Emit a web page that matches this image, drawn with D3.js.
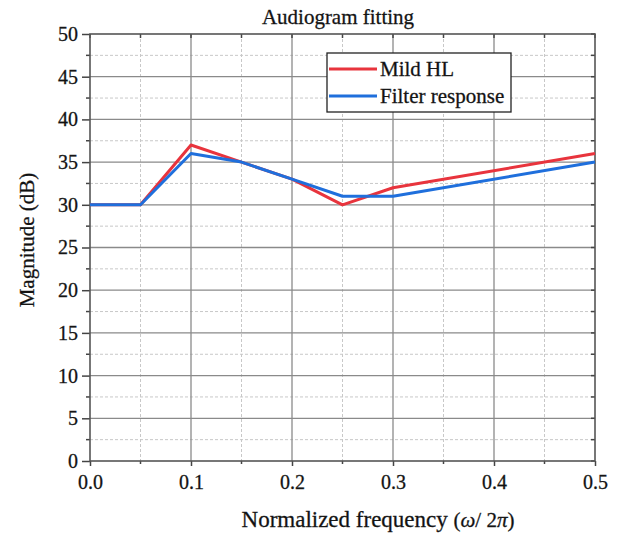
<!DOCTYPE html>
<html>
<head>
<meta charset="utf-8">
<script src="https://cdn.jsdelivr.net/npm/d3@7"></script>
<style>
  html, body { margin: 0; padding: 0; background: #fff; }
  svg { display: block; font-family: "Liberation Serif", "DejaVu Serif", serif; }
  svg text { stroke: #222; stroke-width: 0.3px; }
</style>
</head>
<body>
<svg id="chart" width="617" height="534"></svg>
<script>
// Frequency points (normalized, ω/2π)
const freqs = [0, 0.05, 0.1, 0.15, 0.2, 0.25, 0.3, 0.5];
// Target audiogram (mild hearing loss), dB
const mildHL = [30, 30, 37, 35, 33, 30, 32, 36];
// Designed filter magnitude response, dB
const filterResp = [30, 30, 36, 35, 33, 31, 31, 35];

const xTicks = [0, 0.1, 0.2, 0.3, 0.4, 0.5];
const xMinor = [0.05, 0.15, 0.25, 0.35, 0.45];
const yTicks = [0, 5, 10, 15, 20, 25, 30, 35, 40, 45, 50];
const yMinor = [2.5, 7.5, 12.5, 17.5, 22.5, 27.5, 32.5, 37.5, 42.5, 47.5];

const seriesNames = ["Mild HL", "Filter response"];
const seriesColors = ["#e8343d", "#1f6fdc"];

const svg = d3.select("#chart");
const m = { left: 90, right: 595, top: 34, bottom: 461 };

const x = d3.scaleLinear().domain([0, 0.5]).range([m.left, m.right]);
const y = d3.scaleLinear().domain([0, 50]).range([m.bottom, m.top]);

// minor dashed grid
const g = svg.append("g");
g.selectAll(".vminor").data(xMinor).join("line")
  .attr("x1", d => x(d)).attr("x2", d => x(d))
  .attr("y1", m.top).attr("y2", m.bottom)
  .attr("stroke", "#c8c8c8").attr("stroke-width", 1).attr("stroke-dasharray", "3,2");
g.selectAll(".hminor").data(yMinor).join("line")
  .attr("x1", m.left).attr("x2", m.right)
  .attr("y1", d => y(d)).attr("y2", d => y(d))
  .attr("stroke", "#c8c8c8").attr("stroke-width", 1).attr("stroke-dasharray", "3,2");

// major solid grid
g.selectAll(".vmajor").data(xTicks.slice(1, -1)).join("line")
  .attr("x1", d => x(d)).attr("x2", d => x(d))
  .attr("y1", m.top).attr("y2", m.bottom)
  .attr("stroke", "#8a8a8a").attr("stroke-width", 1.3);
g.selectAll(".hmajor").data(yTicks.slice(1, -1)).join("line")
  .attr("x1", m.left).attr("x2", m.right)
  .attr("y1", d => y(d)).attr("y2", d => y(d))
  .attr("stroke", "#8a8a8a").attr("stroke-width", 1.3);

// axes
const xAxis = d3.axisBottom(x).tickValues(xTicks).tickFormat(d3.format(".1f")).tickSize(5).tickPadding(9);
const yAxis = d3.axisLeft(y).tickValues(yTicks).tickFormat(d3.format("d")).tickSize(8).tickPadding(4);

const gx = svg.append("g").attr("transform", `translate(0,${m.bottom})`).call(xAxis);
const gy = svg.append("g").attr("transform", `translate(${m.left},0)`).call(yAxis);
[gx, gy].forEach(a => {
  a.select(".domain").remove();
  a.selectAll("line").attr("stroke", "#444").attr("stroke-width", 1.5);
  a.selectAll("text").attr("font-size", 20).attr("fill", "#111")
    .attr("font-family", "Liberation Serif, serif");
});

// minor ticks on bottom and left, inner ticks on top and right
const tickStyle = sel => sel.attr("stroke", "#444").attr("stroke-width", 1.5);
svg.append("g").selectAll("line").data(xMinor).join("line")
  .attr("x1", d => x(d)).attr("x2", d => x(d))
  .attr("y1", m.bottom).attr("y2", m.bottom + 3).call(tickStyle);
svg.append("g").selectAll("line").data(yMinor).join("line")
  .attr("x1", m.left - 4).attr("x2", m.left)
  .attr("y1", d => y(d)).attr("y2", d => y(d)).call(tickStyle);
svg.append("g").selectAll("line").data(yTicks.concat(yMinor)).join("line")
  .attr("x1", m.right - 4).attr("x2", m.right)
  .attr("y1", d => y(d)).attr("y2", d => y(d)).call(tickStyle);
svg.append("g").selectAll("line").data(xTicks.concat(xMinor)).join("line")
  .attr("x1", d => x(d)).attr("x2", d => x(d))
  .attr("y1", m.top).attr("y2", m.top + 4).call(tickStyle);

// frame
svg.append("rect")
  .attr("x", m.left).attr("y", m.top)
  .attr("width", m.right - m.left).attr("height", m.bottom - m.top)
  .attr("fill", "none").attr("stroke", "#555").attr("stroke-width", 1.6);

// series
const line = d3.line().x(d => x(d[0])).y(d => y(d[1]));
[mildHL, filterResp].forEach((vals, i) => {
  svg.append("path")
    .datum(freqs.map((f, k) => [f, vals[k]]))
    .attr("d", line)
    .attr("fill", "none")
    .attr("stroke", seriesColors[i])
    .attr("stroke-width", 3)
    .attr("stroke-linejoin", "round");
});

// legend
const lg = svg.append("g").attr("transform", "translate(327,53)");
lg.append("rect").attr("width", 184).attr("height", 59)
  .attr("fill", "#fff").attr("stroke", "#222").attr("stroke-width", 1.3);
seriesNames.forEach((name, i) => {
  const yy = 16 + i * 27;
  lg.append("line").attr("x1", 2).attr("x2", 50).attr("y1", yy).attr("y2", yy)
    .attr("stroke", seriesColors[i]).attr("stroke-width", 3);
  lg.append("text").attr("x", 53).attr("y", yy + 7).text(name)
    .attr("font-size", 21).attr("fill", "#111");
});

// title and axis labels
svg.append("text").attr("x", 338).attr("y", 24).attr("text-anchor", "middle")
  .attr("font-size", 21).attr("fill", "#111").text("Audiogram fitting");

svg.append("text")
  .attr("transform", `translate(34,240) rotate(-90)`)
  .attr("text-anchor", "middle").attr("font-size", 21).attr("fill", "#111")
  .text("Magnitude (dB)");

const xl = svg.append("text").attr("x", 378).attr("y", 527)
  .attr("text-anchor", "middle").attr("font-size", 23).attr("fill", "#111");
xl.append("tspan").text("Normalized frequency ");
const mathPart = xl.append("tspan").attr("font-size", 21);
mathPart.append("tspan").text("(");
mathPart.append("tspan").attr("font-style", "italic").text("ω");
mathPart.append("tspan").text("/ 2");
mathPart.append("tspan").attr("font-style", "italic").text("π");
mathPart.append("tspan").text(")");
</script>
</body>
</html>
